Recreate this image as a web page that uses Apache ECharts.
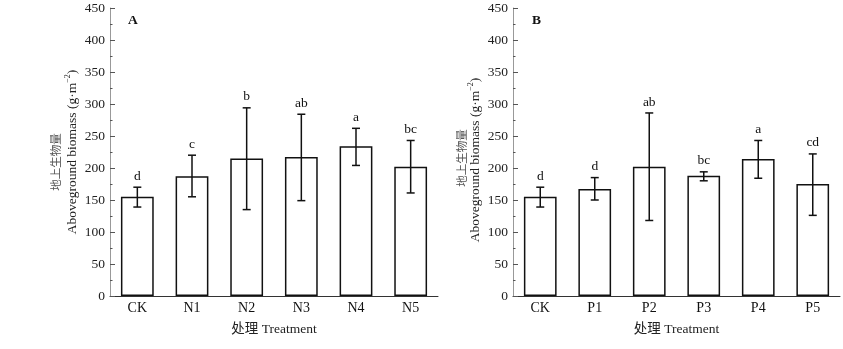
<!DOCTYPE html>
<html><head><meta charset="utf-8">
<script src="https://cdn.jsdelivr.net/npm/echarts@6/dist/echarts.min.js"></script>
<style>html,body{margin:0;padding:0;background:#fff}#c{width:843px;height:349px}</style>
</head><body><div id="c"></div>
<script>
const categoriesA = ['CK','N1','N2','N3','N4','N5'];
const meansA = [155, 187, 215, 217, 234, 202];
const lowerA = [139, 155, 135, 149, 204, 161];
const upperA = [170, 220, 294, 284, 262, 243];
const lettersA = ['d','c','b','ab','a','bc'];

const categoriesB = ['CK','P1','P2','P3','P4','P5'];
const meansB = [155, 167, 202, 188, 214, 175];
const lowerB = [139, 150, 118, 180, 184, 126];
const upperB = [170, 185, 286, 194, 243, 222];
const lettersB = ['d','d','ab','bc','a','cd'];

const yTicks = {min: 0, max: 450, interval: 50};

const SERIF = '"Liberation Serif","Times New Roman",serif';
const CJK = '"Liberation Serif","Noto Sans CJK SC",serif';

const chart = echarts.init(document.getElementById('c'), null, {renderer: 'canvas'});

function errSeries(xi, yi, lower, upper, letters) {
  return {
    type: 'custom', xAxisIndex: xi, yAxisIndex: yi, z: 5,
    data: lower.map((l, i) => [i, l, upper[i], letters[i]]),
    renderItem: function (params, api) {
      const i = api.value(0);
      const lo = api.coord([i, api.value(1)]);
      const hi = api.coord([i, api.value(2)]);
      const cap = 4;
      const st = {stroke: '#111', lineWidth: 1.5};
      return {type: 'group', children: [
        {type: 'line', shape: {x1: lo[0], y1: lo[1], x2: hi[0], y2: hi[1]}, style: st},
        {type: 'line', shape: {x1: lo[0]-cap, y1: lo[1], x2: lo[0]+cap, y2: lo[1]}, style: st},
        {type: 'line', shape: {x1: hi[0]-cap, y1: hi[1], x2: hi[0]+cap, y2: hi[1]}, style: st},
        {type: 'text', x: hi[0], y: hi[1] - 4, style: {text: letters[i], fill: '#111', font: '13.5px ' + SERIF, align: 'center', verticalAlign: 'bottom'}}
      ]};
    }
  };
}

function catAxis(gi, cats) {
  return {
    type: 'category', gridIndex: gi, data: cats,
    axisLine: {lineStyle: {color: '#333', width: 1}},
    axisTick: {inside: true, alignWithLabel: true, length: 4, lineStyle: {color: '#333'}},
    axisLabel: {fontFamily: SERIF, fontSize: 14, color: '#111', margin: 5},
    name: '处理 Treatment', nameLocation: 'middle', nameGap: 27,
    nameTextStyle: {fontFamily: CJK, fontSize: 13.5, color: '#222'}
  };
}
function bndAxis(gi, cats) {
  return {
    type: 'category', gridIndex: gi, data: cats, position: 'bottom',
    axisLine: {show: false},
    axisTick: {inside: true, alignWithLabel: false, length: 2, lineStyle: {color: '#333'}},
    axisLabel: {show: false}
  };
}
function valAxis(gi) {
  return {
    type: 'value', gridIndex: gi, min: yTicks.min, max: yTicks.max, interval: yTicks.interval,
    axisLine: {show: true, lineStyle: {color: '#999', width: 1}},
    axisTick: {show: true, inside: true, length: 5, lineStyle: {color: '#555'}},
    minorTick: {show: true, splitNumber: 2, length: 2.5, lineStyle: {color: '#555'}},
    splitLine: {show: false},
    axisLabel: {fontFamily: SERIF, fontSize: 13.5, color: '#222', margin: 5}
  };
}
function barSeries(xi, yi, vals) {
  return {
    type: 'bar', xAxisIndex: xi, yAxisIndex: yi, data: vals, barWidth: '60%',
    itemStyle: {color: '#fff', borderColor: '#111', borderWidth: 1.5},
    emphasis: {disabled: true}
  };
}
function cnName(x, y) {
  return {type: 'text', x: x, y: y, rotation: Math.PI / 2,
    style: {text: '地上生物量', font: '11.5px "Noto Sans CJK SC"', fill: '#555', align: 'center', verticalAlign: 'middle'}};
}
function enName(x, y) {
  return {type: 'text', x: x, y: y, rotation: Math.PI / 2,
    style: {
      text: '{en|Aboveground biomass (g·m}{sup|−2}{en|)}', align: 'center', verticalAlign: 'middle',
      rich: {en: {fontFamily: SERIF, fontSize: 13.5, fill: '#222', color: '#222'}, sup: {fontFamily: SERIF, fontSize: 8, color: '#222', fill: '#222', verticalAlign: 'top', padding: [0, 0, 8, 0]}}
    }};
}

chart.setOption({
  animation: false,
  grid: [
    {left: 110, right: 405, top: 8, bottom: 53},
    {left: 513, right: 3, top: 8, bottom: 53}
  ],
  xAxis: [catAxis(0, categoriesA), catAxis(1, categoriesB), bndAxis(0, categoriesA), bndAxis(1, categoriesB)],
  yAxis: [valAxis(0), valAxis(1)],
  series: [
    barSeries(0, 0, meansA), errSeries(0, 0, lowerA, upperA, lettersA),
    barSeries(1, 1, meansB), errSeries(1, 1, lowerB, upperB, lettersB)
  ],
  graphic: [
    {type: 'text', left: 128, top: 14, style: {text: 'A', font: 'bold 13.5px ' + SERIF, fill: '#111'}},
    {type: 'text', left: 532, top: 14, style: {text: 'B', font: 'bold 13.5px ' + SERIF, fill: '#111'}},
    cnName(56, 162), enName(72, 152),
    cnName(462, 158), enName(475, 160)
  ]
});
</script></body></html>
